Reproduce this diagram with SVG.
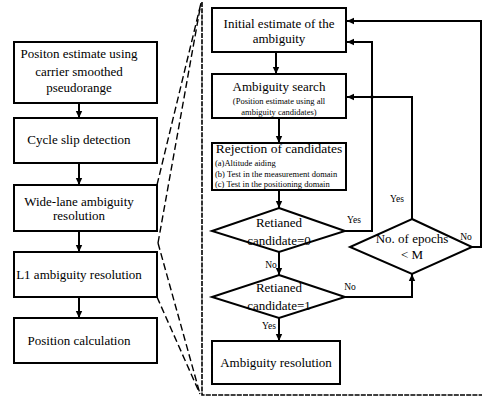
<svg xmlns="http://www.w3.org/2000/svg" width="482" height="400" viewBox="0 0 482 400">
<defs>
<marker id="ah" markerWidth="8" markerHeight="8" refX="7" refY="4" orient="auto" markerUnits="userSpaceOnUse">
<path d="M0,0.8 L7,4 L0,7.2 Z" fill="#000"/>
</marker>
<style>
.box{fill:#fff;stroke:#000;stroke-width:2}
.t{font-family:"Liberation Serif","Times New Roman",serif;font-size:13px;fill:#000;text-anchor:middle}
.s{font-family:"Liberation Serif","Times New Roman",serif;font-size:8.5px;fill:#000}
.lb{font-family:"Liberation Serif","Times New Roman",serif;font-size:9.5px;fill:#000;text-anchor:middle}
.c{fill:none;stroke:#000;stroke-width:2}
.z{fill:none;stroke:#000;stroke-width:1.4;stroke-dasharray:7,3.5}
.f{fill:none;stroke:#000;stroke-width:1.6;stroke-dasharray:5,1.2}
</style>
</defs>
<rect width="482" height="400" fill="#fff"/>
<g id="zoom-lines">
<path class="z" d="M157,185 L201,3"/>
<path class="z" d="M158,243 L201,3"/>
<path class="z" d="M158,243 L200,394"/>
<path class="z" d="M157,297 L200,394"/>
<path class="f" d="M202,2 L202,395 L482,395"/>
</g>
<g id="connectors">
<path class="c" d="M79,103 V118" marker-end="url(#ah)"/>
<path class="c" d="M79,163 V185" marker-end="url(#ah)"/>
<path class="c" d="M79,231 V252" marker-end="url(#ah)"/>
<path class="c" d="M79,297 V318" marker-end="url(#ah)"/>
<path class="c" d="M276,52 V74" marker-end="url(#ah)"/>
<path class="c" d="M279,118 V143" marker-end="url(#ah)"/>
<path class="c" d="M279,190 V208" marker-end="url(#ah)"/>
<path class="c" d="M279,252 V275" marker-end="url(#ah)"/>
<path class="c" d="M279,318 V341" marker-end="url(#ah)"/>
<path class="c" d="M345,231 H372 V42 H347" marker-end="url(#ah)"/>
<path class="c" d="M412,219 V97 H347" marker-end="url(#ah)"/>
<circle cx="372" cy="97" r="1.8" fill="#000"/>
<path class="c" d="M472,247 H481 V21 H347" marker-end="url(#ah)"/>
<path class="c" d="M345,297 H412 V274" marker-end="url(#ah)"/>
<text class="lb" x="354" y="223">Yes</text>
<text class="lb" x="271" y="268">No</text>
<text class="lb" x="269" y="329">Yes</text>
<text class="lb" x="350" y="290">No</text>
<text class="lb" x="397" y="202">Yes</text>
<text class="lb" x="466" y="240">No</text>
</g>
<g id="n1"><rect class="box" x="14" y="42" width="143" height="61"/>
<text class="t" x="79" y="58">Positon estimate using</text>
<text class="t" x="79" y="76">carrier smoothed</text>
<text class="t" x="79" y="92">pseudorange</text></g>
<g id="n2"><rect class="box" x="14" y="118" width="143" height="45"/>
<text class="t" x="79" y="144">Cycle slip detection</text></g>
<g id="n3"><rect class="box" x="14" y="185" width="143" height="46"/>
<text class="t" x="79" y="206">Wide-lane ambiguity</text>
<text class="t" x="79" y="220">resolution</text></g>
<g id="n4"><rect class="box" x="14" y="252" width="143" height="45"/>
<text class="t" x="79" y="279">L1 ambiguity resolution</text></g>
<g id="n5"><rect class="box" x="14" y="318" width="143" height="45"/>
<text class="t" x="79" y="345">Position calculation</text></g>
<g id="r1"><rect class="box" x="212" y="8" width="134" height="44"/>
<text class="t" x="279" y="28">Initial estimate of the</text>
<text class="t" x="279" y="43">ambiguity</text></g>
<g id="r2"><rect class="box" x="212" y="74" width="134" height="44"/>
<text class="t" x="279" y="91">Ambiguity search</text>
<text class="s" x="279" y="104" text-anchor="middle">(Position estimate using all</text>
<text class="s" x="279" y="115" text-anchor="middle">ambiguity candidates)</text></g>
<g id="r3"><rect class="box" x="212" y="143" width="134" height="47"/>
<text class="t" x="279" y="153" style="font-size:13.5px">Rejection of candidates</text>
<text class="s" x="215" y="166">(a)Altitude aiding</text>
<text class="s" x="215" y="177">(b) Test in the measurement domain</text>
<text class="s" x="215" y="187">(c) Test in the positioning domain</text></g>
<g id="d1"><path class="box" d="M279,208 L345,231 L279,252 L212,231 Z"/>
<text class="t" x="279" y="227">Retianed</text>
<text class="t" x="279" y="245">candidate=0</text></g>
<g id="d2"><path class="box" d="M279,275 L345,297 L279,318 L212,297 Z"/>
<text class="t" x="279" y="292">Retianed</text>
<text class="t" x="279" y="310">candidate=1</text></g>
<g id="r4"><rect class="box" x="212" y="341" width="128" height="43"/>
<text class="t" x="276" y="367">Ambiguity resolution</text></g>
<g id="d3"><path class="box" d="M412,219 L472,247 L412,274 L350,247 Z"/>
<text class="t" x="412" y="243">No. of epochs</text>
<text class="t" x="412" y="259">&lt; M</text></g>
</svg>
